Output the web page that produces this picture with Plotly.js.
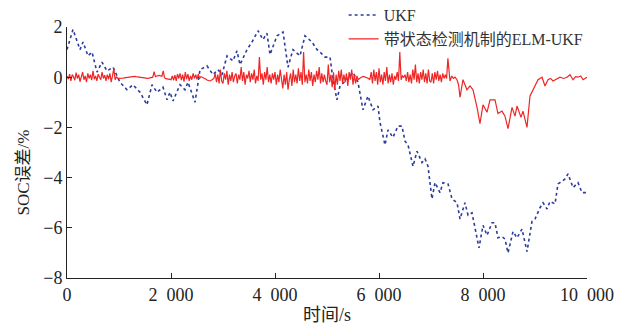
<!DOCTYPE html>
<html>
<head>
<meta charset="utf-8">
<script src="https://cdn.plot.ly/plotly-3.0.1.min.js"></script>
<style>html,body{margin:0;padding:0;background:#fff;}#chart{width:617px;height:327px;}</style>
</head>
<body>
<div id="chart"></div>
<script>
// UKF SOC error (%) vs time (s)
const ukfTime = [0,115,250,308,404,481,577,673,769,885,1019,1154,1269,1404,1538,1635,1731,1846,1923,1981,2038,2173,2269,2327,2462,2558,2692,2808,2904,2981,3077,3192,3269,3327,3462,3558,3673,3769,3846,3904,4038,4154,4250,4346,4481,4577,4712,4808,4865,4962,5058,5115,5192,5250,5385,5500,5596,5692,5788,5885,5981,6019,6115,6173,6269,6365,6442,6500,6558,6654,6731,6827,6885,6942,7019,7077,7173,7231,7327,7404,7500,7558,7654,7712,7788,7846,7923,8000,8077,8173,8231,8288,8365,8423,8481,8577,8654,8750,8846,8942,9000,9096,9154,9231,9288,9385,9442,9519,9577,9635,9731,9827,9904,10000];
const ukfErr = [1.1,1.9,1.1,1.4,0.85,1.0,0.2,0.6,0.25,0.4,-0.2,-0.5,-0.3,-0.6,-1.1,-0.3,-0.6,-0.4,-0.9,-0.6,-0.95,-0.3,-0.5,-0.2,-1.0,0.3,0.45,0.1,0.3,0.1,0.85,0.65,1.05,0.5,1.1,1.4,1.85,1.5,1.75,0.9,1.65,1.8,0.4,1.1,0.85,1.65,1.4,1.1,1.0,0.8,0.8,-0.1,-0.9,-0.35,-0.1,0.2,-0.2,-1.3,-0.75,-1.3,-1.15,-1.8,-2.7,-2.1,-2.4,-1.95,-1.95,-2.55,-2.7,-3.55,-2.95,-3.4,-3.25,-3.55,-4.85,-4.2,-4.6,-4.2,-4.25,-4.85,-5.0,-5.65,-5.0,-5.5,-5.4,-6.05,-6.8,-5.9,-6.3,-5.8,-5.8,-6.4,-6.35,-6.45,-7.0,-6.15,-6.4,-6.05,-6.95,-5.75,-5.65,-5.2,-5.0,-5.25,-4.95,-5.05,-4.25,-4.15,-4.05,-3.85,-4.4,-4.2,-4.6,-4.6];

// ELM-UKF with state detection: SOC error (%) vs time (s)
const elmTime = [
0,25,50,75,100,125,150,175,200,225,250,275,300,325,350,375,400,425,450,475,500,525,550,575,600,625,650,675,700,725,750,775,800,825,850,875,900,925,950,975,
1000,1025,1050,1075,1100,1125,1150,1175,1200,1225,1250,1275,1300,1325,1350,1375,1400,1425,1450,1475,1500,1525,1550,1575,1600,1625,1650,1675,1700,1725,1750,1775,1800,1825,1850,1875,1900,1925,1950,1975,
2000,2025,2050,2075,2100,2125,2150,2175,2200,2225,2250,2275,2300,2325,2350,2375,2400,2425,2450,2475,2500,2525,2550,2575,2600,2625,2650,2675,2700,2725,2750,2775,2800,2825,2850,2875,2900,2925,2950,2975,
3000,3025,3050,3075,3100,3125,3150,3175,3200,3225,3250,3275,3300,3325,3350,3375,3400,3425,3450,3475,3500,3525,3550,3575,3600,3625,3650,3675,3700,3725,3750,3775,3800,3825,3850,3875,3900,3925,3950,3975,
4000,4025,4050,4075,4100,4125,4150,4175,4200,4225,4250,4275,4300,4325,4350,4375,4400,4425,4450,4475,4500,4525,4550,4575,4600,4625,4650,4675,4700,4725,4750,4775,4800,4825,4850,4875,4900,4925,4950,4975,
5000,5025,5050,5075,5100,5125,5150,5175,5200,5225,5250,5275,5300,5325,5350,5375,5400,5425,5450,5475,5500,5525,5550,5575,5600,5625,5650,5675,5700,5725,5750,5775,5800,5825,5850,5875,5900,5925,5950,5975,
6000,6025,6050,6075,6100,6125,6150,6175,6200,6225,6250,6275,6300,6325,6350,6375,6400,6425,6450,6475,6500,6525,6550,6575,6600,6625,6650,6675,6700,6725,6750,6775,6800,6825,6850,6875,6900,6925,6950,6975,
7000,7025,7050,7075,7100,7125,7150,7175,7200,7225,7250,7275,7300,7325,
7365,7400,7430,7462,7500,7530,7558,7615,7692,7750,7808,7885,7942,8000,8077,8135,8231,8288,8365,8423,8481,8558,8615,8654,8731,8769,8846,8904,9000,9058,9135,9192,9250,9300,9346,9420,9481,9550,9615,9673,9731,9780,9827,9880,9923,10000];
const elmErr = [
0.05,-0.08,0.12,-0.15,0.1,0.02,-0.12,0.18,-0.05,0.1,-0.18,0.08,0.2,-0.1,0.05,-0.2,0.15,-0.05,0.1,-0.12,0.25,-0.08,0.05,-0.15,0.12,0.0,-0.1,0.2,-0.05,0.08,-0.15,0.1,-0.08,0.15,-0.2,0.05,0.35,-0.1,0.02,-0.05,
-0.05,-0.06,-0.05,-0.04,-0.03,-0.02,0,0.01,0.02,0.03,0.03,0.04,0.03,0.02,0.01,0,-0.02,-0.03,-0.04,-0.05,-0.05,-0.06,-0.05,-0.04,-0.03,-0.02,0.0,0.22,0.02,0.05,0.06,0.07,0.05,0.04,0.25,-0.02,-0.06,-0.08,-0.1,-0.09,
-0.1,0.05,-0.12,0.08,-0.15,0.12,-0.05,0.15,-0.12,0.1,-0.18,0.2,-0.08,0.12,-0.15,0.05,-0.1,0.15,-0.05,0.1,-0.08,0.12,-0.05,0.02,0,-0.02,-0.05,-0.08,-0.12,-0.15,-0.15,-0.12,-0.08,-0.05,0.15,-0.2,0.1,-0.25,0.3,-0.15,
-0.25,0.15,-0.1,0.25,-0.3,0.1,-0.15,0.2,-0.2,0.05,0.15,-0.25,0.1,-0.1,0.4,-0.15,0.2,-0.3,0.1,-0.05,0.25,-0.2,0.15,-0.1,0.3,-0.25,0.05,-0.15,0.8,-0.1,0.15,-0.3,0.2,-0.1,0.4,-0.2,0.1,-0.25,0.15,-0.1,
0.2,-0.3,0.1,-0.2,0.3,-0.15,-0.45,0.1,-0.3,0.2,-0.5,-0.1,0.15,-0.35,0.3,-0.2,0.1,-0.25,0.35,-0.15,0.2,-0.3,1.0,-0.2,0.1,-0.25,0.3,-0.15,0.2,-0.35,0.1,-0.2,0.25,-0.1,0.4,-0.25,0.15,-0.2,0.1,-0.15,
-0.3,0.5,-0.2,0.1,-0.4,0.2,-0.5,0.1,-0.3,0.25,-0.15,0.3,-0.25,0.1,-0.2,0.15,-0.35,0.2,-0.1,0.3,-0.3,0.1,-0.25,0.05,-0.1,-0.05,0,0.02,0.03,0.01,0,-0.02,-0.05,-0.1,0.2,-0.25,0.3,-0.15,0.2,-0.3,
0.35,-0.2,0.1,-0.3,0.2,-0.15,0.4,-0.25,0.1,-0.2,0.15,-0.3,0.05,-0.1,0.2,-0.15,1.0,-0.1,0.05,0.0,0.1,-0.15,0.2,-0.2,0.1,-0.25,0.3,-0.1,0.5,-0.2,0.15,-0.25,0.2,-0.1,0.3,-0.2,0.15,-0.25,0.3,-0.15,
-0.2,0.15,-0.25,0.2,-0.1,0.25,-0.15,0.1,-0.2,0.15,-0.05,0.1,-0.05,0.75,
-0.15,0.05,-0.05,0,-0.1,-0.3,-0.8,-0.1,-0.5,-0.35,-0.5,-1.2,-1.85,-1.1,-1.4,-0.9,-0.9,-1.45,-1.35,-1.55,-2.05,-1.2,-1.55,-1.15,-1.6,-1.35,-2.0,-0.75,-0.35,-0.1,0,-0.35,-0.1,-0.05,-0.15,-0.05,0,-0.05,0,0.1,-0.1,0.02,0,0.05,-0.1,0];

const seriesNames = ['UKF', '带状态检测机制的ELM-UKF'];
const xTicks = [0,2000,4000,6000,8000,10000];
const xTickText = ['0','2\u2002000','4\u2002000','6\u2002000','8\u2002000','10\u2002000'];
const yTicks = [-8,-6,-4,-2,0,2];
const xTitle = '时间/s';
const yTitle = 'SOC误差/%';

const FONT = '"Liberation Serif", "Times New Roman", "Noto Sans CJK SC", serif';

const traces = [
  {x: ukfTime, y: ukfErr, name: seriesNames[0], type: 'scatter', mode: 'lines',
   line: {color: '#2c3c9e', width: 1.6, dash: 'dot'}},
  {x: elmTime, y: elmErr, name: seriesNames[1], type: 'scatter', mode: 'lines',
   line: {color: '#f02626', width: 1.2}}
];

const layout = {
  width: 617, height: 327,
  margin: {l: 67, r: 30, t: 27, b: 49, autoexpand: false},
  paper_bgcolor: '#fff', plot_bgcolor: '#fff',
  font: {family: FONT, size: 18, color: '#222'},
  showlegend: true,
  legend: {x: 0.532, y: 1.115, xanchor: 'left', yanchor: 'top', bgcolor: 'rgba(0,0,0,0)',
           font: {family: FONT, size: 16, color: '#333'}, tracegroupgap: 0},
  xaxis: {range: [0, 10000], tickvals: xTicks, ticktext: xTickText, ticks: 'inside', ticklen: 5,
          tickcolor: '#222', showline: true, linecolor: '#222', linewidth: 1, showgrid: false,
          zeroline: false, mirror: false, tickfont: {family: FONT, size: 18, color: '#222'}},
  yaxis: {range: [-8, 2], tickvals: yTicks, ticks: 'inside', ticklen: 5, tickcolor: '#222',
          showline: true, linecolor: '#222', linewidth: 1, showgrid: false, zeroline: false,
          tickfont: {family: FONT, size: 18, color: '#222'}},
  annotations: [
    {text: yTitle, xref: 'paper', yref: 'paper', x: -0.105, y: 0.42,
     textangle: -90, showarrow: false, font: {family: FONT, size: 17, color: '#222'}},
    {text: xTitle, xref: 'paper', yref: 'paper', x: 0.5, y: -0.147, xanchor: 'center', yanchor: 'middle',
     showarrow: false, font: {family: FONT, size: 18, color: '#222'}}
  ]
};

Plotly.newPlot('chart', traces, layout, {displayModeBar: false, staticPlot: true});
</script>
</body>
</html>
